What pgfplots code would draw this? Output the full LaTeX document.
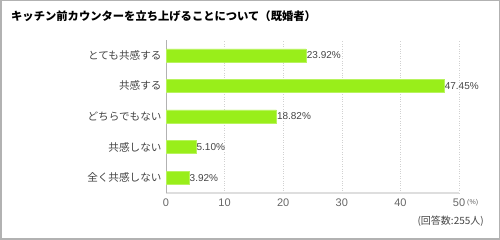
\documentclass[border=0pt]{standalone}
\usepackage{pgfplots}
\pgfplotsset{compat=1.18}
\usepackage{fontspec}
\setmainfont{Liberation Sans}
\newfontfamily\cjk{Noto Sans CJK JP}
\definecolor{bargreen}{HTML}{99EE1A}
\definecolor{txt}{HTML}{444444}
\begin{document}
\begin{tikzpicture}
\useasboundingbox (0pt,0pt) rectangle (500pt,240pt);
\draw[color=black!30, line width=1.5pt] (0.75pt,0.75pt) rectangle (499.25pt,239.25pt);
\node[anchor=west, inner sep=0pt, font=\cjk\bfseries\fontsize{11.3}{13}\selectfont] at (11pt,223.5pt) {キッチン前カウンターを立ち上げることについて（既婚者）};
\begin{axis}[
  at={(166pt,47pt)}, anchor=south west,
  width=293pt, height=153pt, scale only axis,
  xmin=0, xmax=50, ymin=-0.5, ymax=4.5,
  xtick={0,10,...,50},
  ytick={0,1,2,3,4},
  yticklabels={全く共感しない,共感しない,どちらでもない,共感する,とても共感する},
  yticklabel style={font=\cjk\fontsize{10.6}{12}\selectfont, text=txt, xshift=-1pt},
  xticklabel style={font=\fontsize{11}{12}\selectfont, text=black!60, yshift=-2pt},
  /pgf/number format/assume math mode=true,
  major tick length=0pt,
  axis x line*=bottom, axis y line*=left,
  x axis line style={draw=black!13, line width=2pt, -},
  y axis line style={draw=black!30, line width=0.8pt, -},
  xmajorgrids, grid style={draw=black!18, dotted, line width=0.6pt},
  xbar, bar width=13pt,
  nodes near coords={\pgfmathprintnumber[fixed,precision=2,zerofill]{\pgfplotspointmeta}\%},
  point meta=x,
  nodes near coords style={font=\fontsize{10}{12}\selectfont, text=txt, anchor=west, inner xsep=0.5pt},
  clip=false,
]
\addplot[fill=bargreen, draw=bargreen!70!white, line width=0.5pt] coordinates {
(3.92,0) (5.10,1) (18.82,2) (47.45,3) (23.92,4)
};
\end{axis}
\node[anchor=west, inner sep=0pt, font=\fontsize{7}{8}\selectfont, text=black!60] at (467pt,37pt) {(\%)};
\node[anchor=east, inner sep=0pt, font=\cjk\fontsize{10}{12}\selectfont, text=txt] at (484pt,19pt) {(回答数:255人)};
\end{tikzpicture}
\end{document}
